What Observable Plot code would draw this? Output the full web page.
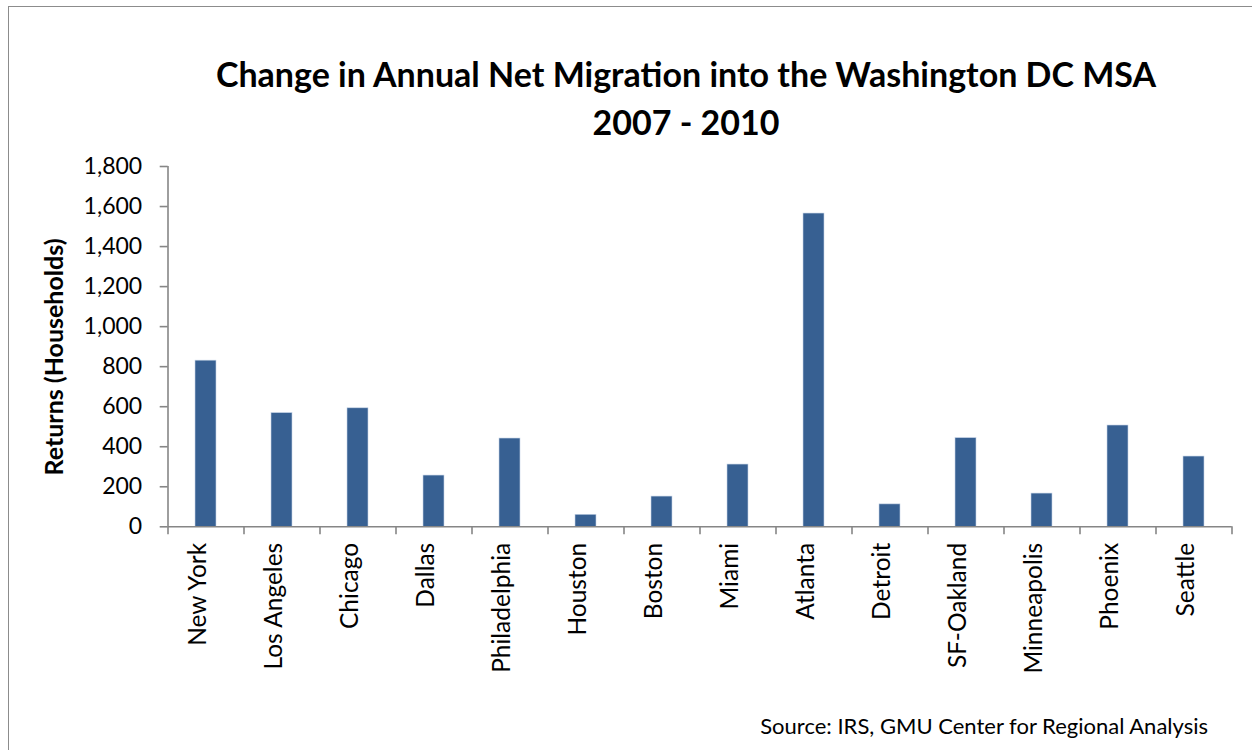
<!DOCTYPE html>
<html>
<head>
<meta charset="utf-8">
<script src="https://cdn.jsdelivr.net/npm/d3@7"></script>
<script src="https://cdn.jsdelivr.net/npm/@observablehq/plot@0.6"></script>
<style>
  html, body { margin: 0; padding: 0; background: #fff; }
  #wrap { position: relative; width: 1252px; height: 750px; overflow: hidden; font-family: Lato, "Open Sans", sans-serif; }
  #box { position: absolute; left: 8px; top: 6px; width: 1400px; height: 900px; border: 1.5px solid #8c8c8c; box-sizing: border-box; }
  #title { position: absolute; left: 386px; width: 600px; top: 50px; text-align: center; font-weight: bold; font-size: 34px; line-height: 48px; color: #000; white-space: nowrap; }
  #title div { position: relative; left: 50%; transform: translateX(-50%); display: inline-block; }
  #ylabel { position: absolute; left: 53px; top: 357px; transform: translate(-50%, -50%) rotate(-90deg); font-weight: bold; font-size: 25px; color: #000; white-space: nowrap; }
  #source { position: absolute; right: 44px; top: 712px; font-size: 22px; color: #000; white-space: nowrap; }
  #chart { position: absolute; left: 0; top: 0; }
</style>
</head>
<body>
<div id="wrap">
  <div id="box"></div>
  <div id="chart"></div>
  <div id="title"><div>Change in Annual Net Migration into the Washington DC MSA<br>2007 - 2010</div></div>
  <div id="ylabel"></div>
  <div id="source">Source: IRS, GMU Center for Regional Analysis</div>
</div>
<script>
const cities = ["New York", "Los Angeles", "Chicago", "Dallas", "Philadelphia", "Houston", "Boston", "Miami", "Atlanta", "Detroit", "SF-Oakland", "Minneapolis", "Phoenix", "Seattle"];
const returns = [830, 568, 592, 256, 441, 60, 151, 311, 1565, 112, 443, 166, 506, 351];
const yTicks = [0, 200, 400, 600, 800, 1000, 1200, 1400, 1600, 1800];
const yLabel = "Returns (Households)";

document.getElementById("ylabel").textContent = yLabel;

const data = cities.map((c, i) => ({city: c, value: returns[i]}));

const W = 1252, H = 750;
const mL = 167.7, mR = 20.3, mT = 166, mB = 223.7;
const step = (W - mL - mR) / cities.length;
const gray = "#868686";

const chart = Plot.plot({
  width: W,
  height: H,
  marginLeft: mL,
  marginRight: mR,
  marginTop: mT,
  marginBottom: mB,
  style: {fontFamily: "Lato, 'Open Sans', sans-serif", background: "transparent"},
  x: {domain: cities, paddingInner: 0.724, paddingOuter: 0.362, axis: null},
  y: {domain: [0, 1800], axis: null},
  marks: [
    Plot.barY(data, {x: "city", y: "value", fill: "#376092", stroke: "#c5d3e6", strokeWidth: 0.6}),
    Plot.ruleY([0], {stroke: gray, strokeWidth: 1.6}),
    Plot.ruleX([cities[0]], {dx: -step / 2, stroke: gray, strokeWidth: 1.6}),
    Plot.axisY({ticks: yTicks, tickSize: 8, tickFormat: () => "", stroke: gray, strokeWidth: 1.6, label: null}),
    Plot.axisY({ticks: yTicks, tickSize: 0, tickPadding: 26, tickFormat: d3.format(","), fontSize: 23, fill: "#000", label: null}),
    Plot.axisX({tickSize: 8, tickFormat: () => "", dx: -step / 2, stroke: gray, strokeWidth: 1.6, label: null}),
    Plot.axisX([cities[cities.length - 1]], {tickSize: 8, tickFormat: () => "", dx: step / 2, stroke: gray, strokeWidth: 1.6, label: null}),
    Plot.text(cities, {x: d => d, frameAnchor: "bottom", rotate: -90, textAnchor: "end", dy: 16, fontSize: 24.5, fill: "#000"})
  ]
});
document.getElementById("chart").appendChild(chart);
</script>
</body>
</html>
